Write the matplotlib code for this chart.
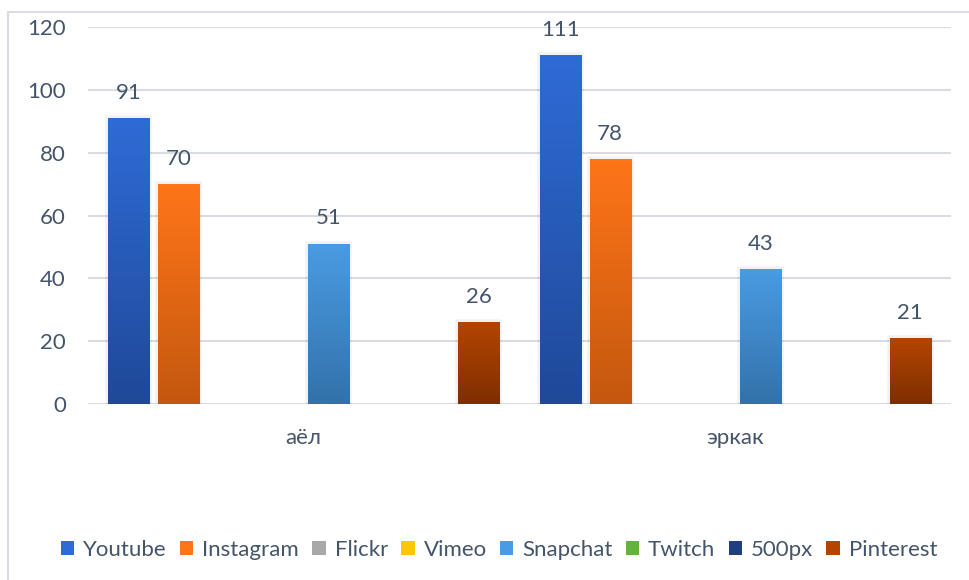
import numpy as np
import matplotlib
matplotlib.use("Agg")
from matplotlib import pyplot as plt
from matplotlib.patches import Rectangle
from matplotlib.colors import LinearSegmentedColormap

plt.rcParams['font.family'] = ['Lato', 'DejaVu Sans']

categories = ['аёл', 'эркак']
series = ['Youtube', 'Instagram', 'Flickr', 'Vimeo', 'Snapchat', 'Twitch', '500px', 'Pinterest']
values = {
    'Youtube': [91, 111],
    'Instagram': [70, 78],
    'Flickr': [None, None],
    'Vimeo': [None, None],
    'Snapchat': [51, 43],
    'Twitch': [None, None],
    '500px': [None, None],
    'Pinterest': [26, 21],
}
# (top colour, bottom colour)
colors = {
    'Youtube': ('#2F6BD6', '#1F4999'),
    'Instagram': ('#FF7518', '#C4580F'),
    'Flickr': ('#A8A8A8', '#7A7A7A'),
    'Vimeo': ('#FFC600', '#D9A000'),
    'Snapchat': ('#4A9BE3', '#3372AA'),
    'Twitch': ('#63B33B', '#467F2A'),
    '500px': ('#1F3F80', '#15295A'),
    'Pinterest': ('#B34500', '#7F2E00'),
}
text_col = '#44546A'
grid_col = '#D9DDE3'

fig = plt.figure(figsize=(9.69, 5.8), dpi=100)
ax = fig.add_axes([88 / 969, 1 - 404 / 580, 863 / 969, 377 / 580])

# outer chart frame (only top/left visible in reference)
fig.add_artist(Rectangle((8 / 969, -0.1), 1.2, 1 - 12 / 580 + 0.1, transform=fig.transFigure,
                         fill=False, edgecolor=grid_col, linewidth=1.5))

n = len(series)
slot = 0.927 / n
bw = slot * 0.82
x = np.arange(len(categories))

for i, s in enumerate(series):
    pos = x - 0.927 / 2 + slot * (i + 0.5)
    vals = [v if v is not None else 0 for v in values[s]]
    top, bot = colors[s]
    cmap = LinearSegmentedColormap.from_list(s, [bot, top])
    bars = ax.bar(pos, vals, bw, color='none', edgecolor='none', zorder=3, label=s)
    for b, v in zip(bars, values[s]):
        if v is None:
            continue
        # faint shadow
        ax.add_patch(Rectangle((b.get_x(), 0), b.get_width(), v, fill=False,
                               edgecolor='#000000', alpha=0.05, linewidth=4, zorder=2))
        grad = np.linspace(0, 1, 100).reshape(-1, 1)
        im = ax.imshow(grad, cmap=cmap, origin='lower', aspect='auto', zorder=3,
                       extent=[b.get_x(), b.get_x() + b.get_width(), 0, b.get_height()])
        im.set_clip_path(b)
        ax.annotate(str(v), (b.get_x() + b.get_width() / 2, b.get_height()),
                    xytext=(0, 11), textcoords='offset points', ha='center', va='bottom',
                    fontsize=16, color=text_col)

ax.set_xlim(-0.5, 1.5)
ax.set_ylim(0, 120)
ax.set_yticks(range(0, 121, 20))
ax.set_xticks(x)
ax.set_xticklabels(categories)
ax.grid(axis='y', color=grid_col, linewidth=1.5, zorder=0)
ax.set_axisbelow(True)
for sp in ax.spines.values():
    sp.set_visible(False)
ax.tick_params(length=0, labelsize=16, labelcolor=text_col)
ax.tick_params(axis='x', pad=17)
ax.tick_params(axis='y', pad=16)

handles = [Rectangle((0, 0), 1, 1, facecolor=colors[s][0]) for s in series]
fig.legend(handles, series, loc='center', bbox_to_anchor=(0.515, 1 - 550 / 580), ncol=n,
           frameon=False, fontsize=16, labelcolor=text_col, handlelength=0.6, handleheight=0.6,
           handletextpad=0.4, columnspacing=0.6)

fig.savefig('out.png', dpi=100)
